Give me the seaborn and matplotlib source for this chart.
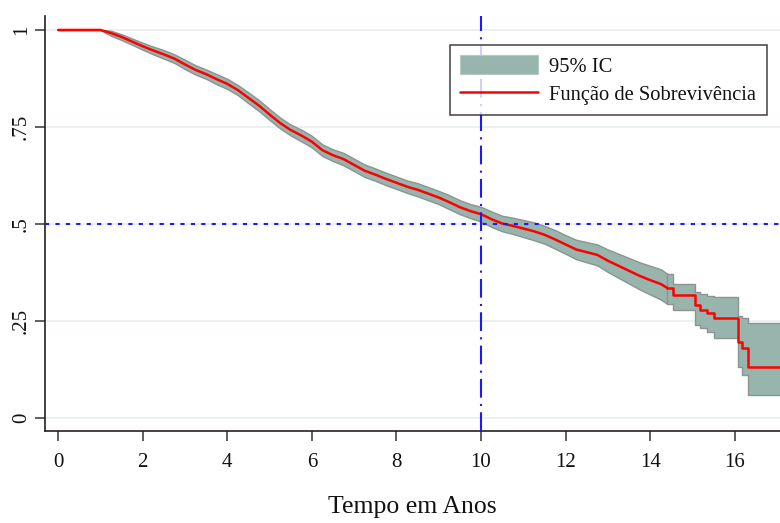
import matplotlib
matplotlib.use("Agg")
import matplotlib.pyplot as plt
import seaborn as sns
import pandas as pd
from matplotlib.patches import Patch
from matplotlib.lines import Line2D

# Kaplan-Meier estimate
tempo = [0.0, 1.0, 1.25, 1.5, 1.75, 2.0, 2.25, 2.5, 2.75, 3.0, 3.25, 3.5, 3.75,
         4.0, 4.25, 4.5, 4.75, 5.0, 5.25, 5.5, 5.75, 6.0, 6.25, 6.5, 6.75,
         7.0, 7.25, 7.5, 7.75, 8.0, 8.25, 8.5, 8.75, 9.0, 9.25, 9.5, 9.75,
         10.0, 10.25, 10.5, 10.75, 11.0, 11.25, 11.5, 11.75, 12.0, 12.25,
         12.5, 12.75, 13.0, 13.25, 13.5, 13.75, 14.0, 14.25, 14.4, 14.54,
         15.06, 15.18, 15.34, 15.5, 16.08, 16.18, 16.31, 17.1]
sobrev = [1.000, 1.000, 0.992, 0.982, 0.970, 0.958, 0.947, 0.937, 0.926, 0.911,
          0.897, 0.886, 0.873, 0.861, 0.845, 0.825, 0.805, 0.782, 0.760, 0.742,
          0.728, 0.712, 0.690, 0.677, 0.667, 0.652, 0.637, 0.627, 0.616, 0.606,
          0.596, 0.588, 0.578, 0.568, 0.556, 0.543, 0.533, 0.525, 0.512, 0.501,
          0.495, 0.488, 0.481, 0.472, 0.460, 0.447, 0.434, 0.427, 0.420, 0.405,
          0.392, 0.379, 0.366, 0.355, 0.345, 0.335, 0.317, 0.291, 0.278, 0.270,
          0.258, 0.196, 0.180, 0.131, 0.131]
ic_inf = [1.000, 1.000, 0.985, 0.974, 0.962, 0.949, 0.937, 0.926, 0.915, 0.899,
          0.885, 0.874, 0.860, 0.848, 0.832, 0.811, 0.791, 0.768, 0.746, 0.728,
          0.713, 0.697, 0.675, 0.662, 0.651, 0.636, 0.621, 0.611, 0.600, 0.590,
          0.580, 0.571, 0.561, 0.551, 0.538, 0.525, 0.515, 0.506, 0.492, 0.481,
          0.474, 0.466, 0.458, 0.449, 0.436, 0.423, 0.409, 0.401, 0.393, 0.376,
          0.361, 0.346, 0.331, 0.318, 0.305, 0.294, 0.278, 0.240, 0.232, 0.222,
          0.206, 0.130, 0.110, 0.059, 0.059]
ic_sup = [1.000, 1.000, 0.998, 0.989, 0.978, 0.967, 0.957, 0.948, 0.937, 0.923,
          0.909, 0.898, 0.886, 0.874, 0.858, 0.839, 0.819, 0.796, 0.774, 0.756,
          0.743, 0.727, 0.705, 0.692, 0.683, 0.668, 0.653, 0.643, 0.632, 0.622,
          0.612, 0.605, 0.595, 0.585, 0.574, 0.561, 0.551, 0.544, 0.532, 0.521,
          0.516, 0.510, 0.504, 0.495, 0.484, 0.471, 0.459, 0.453, 0.447, 0.434,
          0.423, 0.412, 0.401, 0.392, 0.383, 0.372, 0.345, 0.325, 0.318, 0.315,
          0.312, 0.262, 0.258, 0.245, 0.245]

xticks = [0, 2, 4, 6, 8, 10, 12, 14, 16]
yticks = [0, 0.25, 0.5, 0.75, 1]
ytick_labels = ["0", ".25", ".5", ".75", "1"]
ref_tempo = 10
ref_sobrev = 0.5
label_ic = "95% IC"
label_curve = "Função de Sobrevivência"
xlabel = "Tempo em Anos"

df = pd.DataFrame({"tempo": tempo, "sobrev": sobrev, "lo": ic_inf, "hi": ic_sup})
# dense early part (many tiny steps) drawn as a line, sparse tail as steps
corte = 14.4
df_suave = df[df["tempo"] <= corte]
df_degrau = df[df["tempo"] >= corte]

sns.set_theme(style="white")
plt.rcParams["font.family"] = ["Liberation Serif", "DejaVu Serif"]

fig = plt.figure(figsize=(7.8, 5.23), dpi=100)
ax = fig.add_axes([45/780, 1 - 431/523, 1 - 45/780, (431 - 16)/523])

band_kw = dict(facecolor="#97b5ad", edgecolor="#8e9390", linewidth=1.0, zorder=2)
ax.fill_between(df_suave["tempo"], df_suave["lo"], df_suave["hi"], **band_kw)
ax.fill_between(df_degrau["tempo"], df_degrau["lo"], df_degrau["hi"], step="post", **band_kw)
sns.lineplot(data=df_suave, x="tempo", y="sobrev", ax=ax, estimator=None,
             color="#ff0000", linewidth=1.8, zorder=3)
sns.lineplot(data=df_degrau, x="tempo", y="sobrev", ax=ax, estimator=None,
             drawstyle="steps-post", color="#ff0000", linewidth=1.8, zorder=3)

ax.axvline(ref_tempo, color="#1a1aff", linewidth=1.5, dashes=(9, 3, 1, 3), zorder=4)
ax.axhline(ref_sobrev, color="#1a1aff", linewidth=1.5, dashes=(2, 3), zorder=4)

ax.set_xlim(-0.31, 17.07)
ax.set_ylim(-0.034, 1.036)
ax.set_xticks(xticks)
ax.set_xticklabels([str(v) for v in xticks])
ax.set_yticks(yticks)
ax.set_yticklabels(ytick_labels, rotation=90, va="center")
ax.grid(axis="y", color="#e8eff1", linewidth=1.2, zorder=0)
ax.grid(axis="x", visible=False)
ax.set_axisbelow(True)

for s in ["top", "right"]:
    ax.spines[s].set_visible(False)
for s in ["left", "bottom"]:
    ax.spines[s].set_color("#222222")
    ax.spines[s].set_linewidth(1.2)

ax.tick_params(axis="both", which="major", direction="out", length=7, width=1.2,
               color="#444444", labelsize=15, labelcolor="#111111",
               left=True, bottom=True)
ax.tick_params(axis="x", pad=9)
ax.tick_params(axis="y", pad=3)

ax.set_xlabel(xlabel, fontsize=18.5, color="#111111", labelpad=17)
ax.set_ylabel("")

handles = [Patch(facecolor="#97b5ad", edgecolor="#b8c8c4", linewidth=0.8),
           Line2D([0], [0], color="#ff0000", linewidth=1.8)]
leg = ax.legend(handles, [label_ic, label_curve], loc="upper right",
                bbox_to_anchor=(0.982, 0.930), borderaxespad=0, fontsize=14.8,
                frameon=True, fancybox=False, edgecolor="#222222",
                handlelength=3.8, handleheight=1.0, handletextpad=0.55,
                borderpad=0.5, labelspacing=0.35)
leg.get_frame().set_linewidth(1.2)
for t in leg.get_texts():
    t.set_color("#111111")

fig.savefig("out.png", dpi=100)
